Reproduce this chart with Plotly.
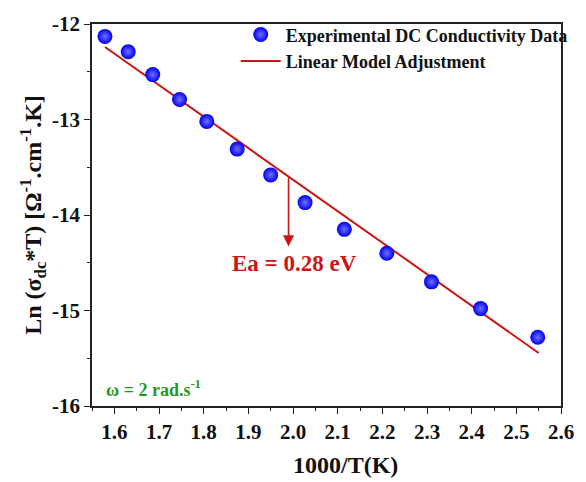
import plotly.graph_objects as go

# Inverse temperature (1000/T, K^-1) and Ln(sigma_dc*T)
inv_T = [1.579, 1.631, 1.686, 1.746, 1.807, 1.875, 1.950, 2.027, 2.115, 2.210, 2.310, 2.420, 2.548]
ln_sigma_T = [-12.13, -12.29, -12.53, -12.79, -13.02, -13.31, -13.58, -13.87, -14.15, -14.40, -14.70, -14.98, -15.28]

# Linear (Arrhenius) fit parameters
fit_slope = -3.30
fit_intercept = -7.03
fit_x = [1.579, 2.55]
ea_x = 1.99
ea_arrow_tip = -14.33
ea_label = "Ea = 0.28 eV"

# axis ticks
x_ticks = [1.6, 1.7, 1.8, 1.9, 2.0, 2.1, 2.2, 2.3, 2.4, 2.5, 2.6]
y_ticks = [-16, -15, -14, -13, -12]
y_tick_text = ["-16", "-15", "-14", "-13", "-12"]

RED = "#cc1414"
FONT = "Liberation Serif"
INK = "#111"

fit_y = [fit_intercept + fit_slope * x for x in fit_x]

fig = go.Figure()
fig.add_trace(go.Scatter(
    x=fit_x, y=fit_y, mode="lines",
    line=dict(color=RED, width=2),
    name="Linear Model Adjustment",
))
fig.add_trace(go.Scatter(
    x=inv_T, y=ln_sigma_T, mode="markers",
    marker=dict(size=15, color="#0000f0",
                gradient=dict(type="radial", color="#7070ff"),
                line=dict(width=0)),
    name="Experimental DC Conductivity Data",
))

# arrow from the fit line down to the activation-energy label
ea_y0 = fit_intercept + fit_slope * ea_x
fig.add_annotation(
    x=ea_x, y=ea_arrow_tip, ax=ea_x, ay=ea_y0,
    xref="x", yref="y", axref="x", ayref="y",
    showarrow=True, arrowhead=2, arrowsize=1.4, arrowwidth=1.6, arrowcolor=RED, text="",
)
fig.add_annotation(
    x=ea_x + 0.014, y=ea_arrow_tip - 0.18, xref="x", yref="y", showarrow=False,
    text="<b>" + ea_label + "</b>", font=dict(family=FONT, size=23, color=RED),
)
fig.add_annotation(
    x=0.025, y=0.045, xref="paper", yref="paper", xanchor="left", yanchor="middle",
    showarrow=False, text="<b>ω = 2 rad.s<sup>-1</sup></b>",
    font=dict(family=FONT, size=18, color="#1f9a1f"),
)
fig.add_annotation(
    x=0.54, y=-0.155, xref="paper", yref="paper", xanchor="center", yanchor="middle",
    showarrow=False, text="<b>1000/T(K)</b>",
    font=dict(family=FONT, size=24, color=INK),
)

axis_common = dict(
    showline=True, linecolor="#222", linewidth=1.5, mirror=True,
    ticks="outside", ticklen=6, tickwidth=1.3, tickcolor="#222",
    showgrid=False, zeroline=False,
    tickfont=dict(family=FONT, size=21, color=INK, weight="bold"),
)
fig.update_xaxes(
    range=[1.55, 2.6], tickvals=x_ticks, tickformat=".1f",
    minor=dict(ticks="outside", ticklen=3, dtick=0.05, tick0=1.6, tickcolor="#222"),
    **axis_common,
)
fig.update_yaxes(
    range=[-16, -12], tickvals=y_ticks, ticktext=y_tick_text,
    minor=dict(ticks="outside", ticklen=3, dtick=0.5, tickcolor="#222"),
    title=dict(text="<b>Ln (σ<sub>dc</sub>*T) [Ω<sup>-1</sup>.cm<sup>-1</sup>.K]</b>",
               font=dict(family=FONT, size=24, color=INK), standoff=4),
    **axis_common,
)
fig.update_layout(
    width=586, height=482,
    margin=dict(l=92, r=14, t=20, b=76),
    paper_bgcolor="white", plot_bgcolor="white",
    legend=dict(x=1.025, y=1.02, xanchor="right", yanchor="top",
                font=dict(family=FONT, size=18, color=INK, weight="bold"),
                bgcolor="rgba(0,0,0,0)", traceorder="reversed",
                itemwidth=40, tracegroupgap=0),
)
fig.write_html("out.html")
